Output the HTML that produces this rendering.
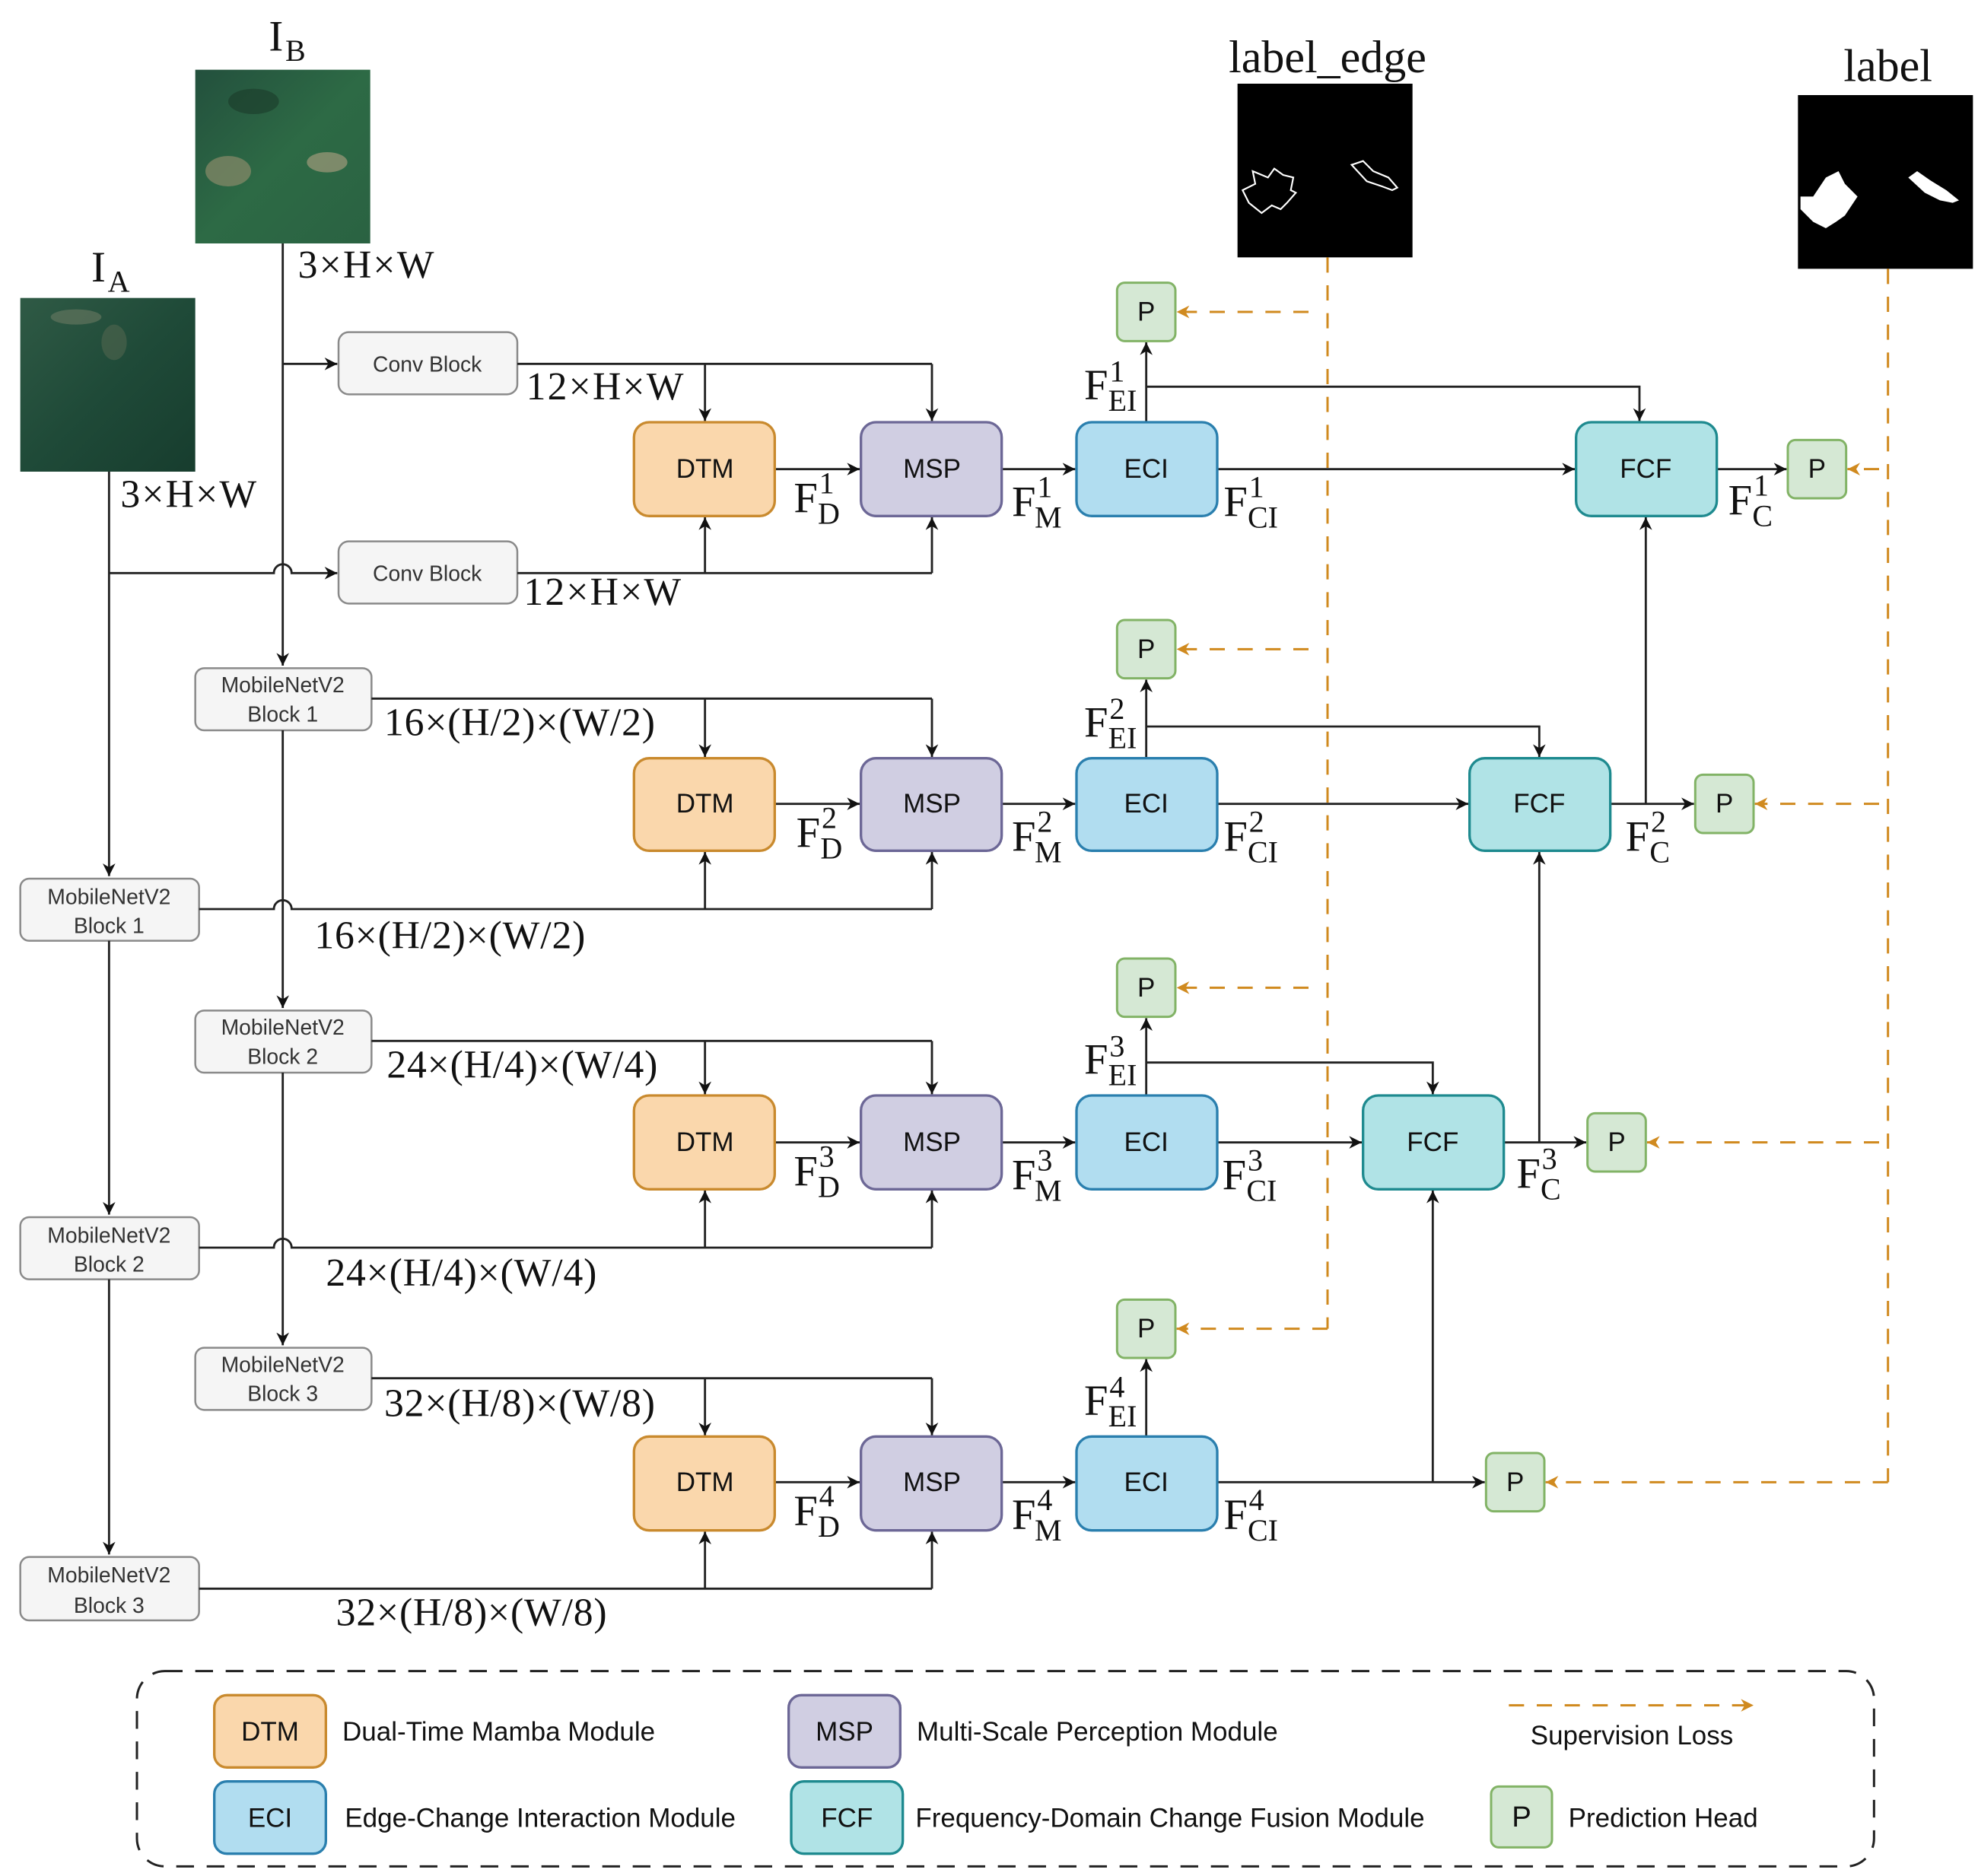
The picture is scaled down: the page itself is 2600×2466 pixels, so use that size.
<!DOCTYPE html>
<html><head><meta charset="utf-8"><style>
html,body{margin:0;padding:0;background:#fff}
svg{display:block}
.b{font-family:"Liberation Sans",sans-serif;font-size:21px;fill:#111;text-anchor:middle;dominant-baseline:central}
.g{font-family:"Liberation Sans",sans-serif;font-size:17px;fill:#333;text-anchor:middle}
.m{font-family:"Liberation Serif",serif;font-size:34px;fill:#111}
.d{font-family:"Liberation Serif",serif;font-size:31px;fill:#111;letter-spacing:0.5px}
.d2{font-family:"Liberation Serif",serif;font-size:31px;fill:#111;letter-spacing:1.3px}
.s{font-family:"Liberation Serif",serif;font-size:24px;fill:#111}
.lg{font-family:"Liberation Sans",sans-serif;font-size:21px;fill:#111;dominant-baseline:central}
.ln{stroke:#222;stroke-width:1.7;fill:none}
.or{stroke:#d08a1f;stroke-width:1.8;fill:none;stroke-dasharray:12 10}
</style></head><body>
<svg width="2600" height="2466" viewBox="0 0 1560 1479.6" xmlns="http://www.w3.org/2000/svg">
<defs>
<marker id="a" viewBox="0 0 10 10" refX="10" refY="5" markerWidth="10" markerHeight="10" markerUnits="userSpaceOnUse" orient="auto"><path d="M0,0 L10,5 L0,10 L3,5 z" fill="#111"/></marker>
<marker id="o" viewBox="0 0 10 10" refX="10" refY="5" markerWidth="10" markerHeight="10" markerUnits="userSpaceOnUse" orient="auto"><path d="M0,0 L10,5 L0,10 L3,5 z" fill="#d08a1f"/></marker>
<linearGradient id="gA" x1="0" y1="0" x2="1" y2="1"><stop offset="0" stop-color="#2f5a45"/><stop offset="0.5" stop-color="#1f4a38"/><stop offset="1" stop-color="#173d2e"/></linearGradient>
<linearGradient id="gB" x1="0" y1="0" x2="1" y2="1"><stop offset="0" stop-color="#23503d"/><stop offset="0.5" stop-color="#2d6a45"/><stop offset="1" stop-color="#2a6242"/></linearGradient>
</defs>

<rect x="154" y="55" width="138" height="137" fill="url(#gB)"/>
<ellipse cx="180" cy="135" rx="18" ry="12" fill="#8a8a6a" opacity="0.7"/>
<ellipse cx="258" cy="128" rx="16" ry="8" fill="#a09a7a" opacity="0.7"/>
<ellipse cx="200" cy="80" rx="20" ry="10" fill="#1a3a2a" opacity="0.6"/>
<rect x="16" y="235" width="138" height="137" fill="url(#gA)"/>
<ellipse cx="60" cy="250" rx="20" ry="6" fill="#6a7a62" opacity="0.6"/>
<ellipse cx="90" cy="270" rx="10" ry="14" fill="#5a6a52" opacity="0.5"/>
<text x="212" y="40" class="m">I</text><text x="225" y="48" class="s">B</text>
<text x="72" y="222" class="m">I</text><text x="85" y="230" class="s">A</text>

<rect x="976" y="66" width="138" height="137" fill="#000"/>
<path d="M980,150 L990,145 L988,135 L1000,140 L1005,133 L1012,138 L1020,140 L1018,150 L1022,152 L1015,160 L1010,165 L1003,162 L995,168 L985,160 Z" stroke="#fff" stroke-width="1.3" fill="none"/>
<path d="M1066,130 L1075,127 L1083,135 L1095,140 L1102,148 L1098,150 L1090,147 L1078,143 Z" stroke="#fff" stroke-width="1.3" fill="none"/>
<rect x="1418" y="75" width="138" height="137" fill="#000"/>
<path d="M1420,155 L1430,155 L1440,140 L1450,135 L1455,145 L1465,155 L1455,170 L1448,175 L1440,180 L1430,175 L1420,165 Z" fill="#fff"/>
<path d="M1505,140 L1512,135 L1522,142 L1535,150 L1545,158 L1540,160 L1530,158 L1518,152 Z" fill="#fff"/>
<text x="1047" y="57" class="m" text-anchor="middle" style="font-size:36px">label_edge</text>
<text x="1489" y="64" class="m" text-anchor="middle" style="font-size:36px">label</text>

<line x1="223" y1="192" x2="223" y2="525" class="ln" marker-end="url(#a)"/>
<line x1="86" y1="372" x2="86" y2="691" class="ln" marker-end="url(#a)"/>
<line x1="223" y1="287" x2="266" y2="287" class="ln" marker-end="url(#a)"/>
<path d="M86,452 H216 A7,7 0 0 1 230,452 H266" class="ln" marker-end="url(#a)"/>
<text x="235" y="219" class="d2">3×H×W</text>
<text x="95" y="400" class="d2">3×H×W</text>

<g fill="#f5f5f5" stroke="#8a8a8a" stroke-width="1.5">
<rect x="267" y="262" width="141" height="49" rx="8"/>
<rect x="267" y="427" width="141" height="49" rx="8"/>
<rect x="154" y="527" width="139" height="49" rx="7"/>
<rect x="154" y="797" width="139" height="49" rx="7"/>
<rect x="154" y="1063" width="139" height="49" rx="7"/>
<rect x="16" y="693" width="141" height="49" rx="7"/>
<rect x="16" y="960" width="141" height="49" rx="7"/>
<rect x="16" y="1228" width="141" height="50" rx="7"/>
</g>
<text x="337" y="293" class="g">Conv Block</text>
<text x="337" y="458" class="g">Conv Block</text>
<text x="223" y="546" class="g">MobileNetV2</text><text x="223" y="569" class="g">Block 1</text>
<text x="223" y="816" class="g">MobileNetV2</text><text x="223" y="839" class="g">Block 2</text>
<text x="223" y="1082" class="g">MobileNetV2</text><text x="223" y="1105" class="g">Block 3</text>
<text x="86" y="713" class="g">MobileNetV2</text><text x="86" y="736" class="g">Block 1</text>
<text x="86" y="980" class="g">MobileNetV2</text><text x="86" y="1003" class="g">Block 2</text>
<text x="86" y="1248" class="g">MobileNetV2</text><text x="86" y="1272" class="g">Block 3</text>

<line x1="223" y1="576" x2="223" y2="795" class="ln" marker-end="url(#a)"/>
<line x1="223" y1="846" x2="223" y2="1061" class="ln" marker-end="url(#a)"/>
<line x1="86" y1="742" x2="86" y2="958" class="ln" marker-end="url(#a)"/>
<line x1="86" y1="1009" x2="86" y2="1226" class="ln" marker-end="url(#a)"/>

<path d="M408,287 H735" class="ln"/>
<line x1="556" y1="287" x2="556" y2="332" class="ln" marker-end="url(#a)"/>
<line x1="735" y1="287" x2="735" y2="332" class="ln" marker-end="url(#a)"/>
<path d="M408,452 H735" class="ln"/>
<line x1="556" y1="452" x2="556" y2="408" class="ln" marker-end="url(#a)"/>
<line x1="735" y1="452" x2="735" y2="408" class="ln" marker-end="url(#a)"/>
<text x="415" y="315" class="d2">12×H×W</text>
<text x="413" y="477" class="d2">12×H×W</text>

<path d="M293,551 H735" class="ln"/>
<line x1="556" y1="551" x2="556" y2="597" class="ln" marker-end="url(#a)"/>
<line x1="735" y1="551" x2="735" y2="597" class="ln" marker-end="url(#a)"/>
<path d="M157,717 H216 A7,7 0 0 1 230,717 H735" class="ln"/>
<line x1="556" y1="717" x2="556" y2="672" class="ln" marker-end="url(#a)"/>
<line x1="735" y1="717" x2="735" y2="672" class="ln" marker-end="url(#a)"/>
<text x="303" y="580" class="d">16×(H/2)×(W/2)</text>
<text x="248" y="748" class="d">16×(H/2)×(W/2)</text>

<path d="M293,821 H735" class="ln"/>
<line x1="556" y1="821" x2="556" y2="863" class="ln" marker-end="url(#a)"/>
<line x1="735" y1="821" x2="735" y2="863" class="ln" marker-end="url(#a)"/>
<path d="M157,984 H216 A7,7 0 0 1 230,984 H735" class="ln"/>
<line x1="556" y1="984" x2="556" y2="939" class="ln" marker-end="url(#a)"/>
<line x1="735" y1="984" x2="735" y2="939" class="ln" marker-end="url(#a)"/>
<text x="305" y="850" class="d">24×(H/4)×(W/4)</text>
<text x="257" y="1014" class="d">24×(H/4)×(W/4)</text>

<path d="M293,1087 H735" class="ln"/>
<line x1="556" y1="1087" x2="556" y2="1132" class="ln" marker-end="url(#a)"/>
<line x1="735" y1="1087" x2="735" y2="1132" class="ln" marker-end="url(#a)"/>
<path d="M157,1253 H735" class="ln"/>
<line x1="556" y1="1253" x2="556" y2="1208" class="ln" marker-end="url(#a)"/>
<line x1="735" y1="1253" x2="735" y2="1208" class="ln" marker-end="url(#a)"/>
<text x="303" y="1117" class="d">32×(H/8)×(W/8)</text>
<text x="265" y="1282" class="d">32×(H/8)×(W/8)</text>

<line x1="1047" y1="203" x2="1047" y2="1048" class="or"/>
<line x1="1489" y1="212" x2="1489" y2="1169" class="or"/>
<line x1="1032" y1="246" x2="928" y2="246" class="or" marker-end="url(#o)"/>
<line x1="1032" y1="512" x2="928" y2="512" class="or" marker-end="url(#o)"/>
<line x1="1032" y1="779" x2="928" y2="779" class="or" marker-end="url(#o)"/>
<line x1="1047" y1="1048" x2="928" y2="1048" class="or" marker-end="url(#o)"/>
<line x1="1482" y1="370" x2="1457" y2="370" class="or" marker-end="url(#o)"/>
<line x1="1482" y1="634" x2="1384" y2="634" class="or" marker-end="url(#o)"/>
<line x1="1482" y1="901" x2="1299" y2="901" class="or" marker-end="url(#o)"/>
<line x1="1489" y1="1169" x2="1219" y2="1169" class="or" marker-end="url(#o)"/>

<g class="ln">
<line x1="611" y1="370" x2="678" y2="370" marker-end="url(#a)"/>
<line x1="790" y1="370" x2="848" y2="370" marker-end="url(#a)"/>
<line x1="960" y1="370" x2="1242" y2="370" marker-end="url(#a)"/>
<line x1="1354" y1="370" x2="1409" y2="370" marker-end="url(#a)"/>
<line x1="904" y1="333" x2="904" y2="270" marker-end="url(#a)"/>
<path d="M904,305 H1293 V332" marker-end="url(#a)"/>

<line x1="611" y1="634" x2="678" y2="634" marker-end="url(#a)"/>
<line x1="790" y1="634" x2="848" y2="634" marker-end="url(#a)"/>
<line x1="960" y1="634" x2="1158" y2="634" marker-end="url(#a)"/>
<line x1="1270" y1="634" x2="1336" y2="634" marker-end="url(#a)"/>
<line x1="1298" y1="634" x2="1298" y2="408" marker-end="url(#a)"/>
<line x1="904" y1="598" x2="904" y2="536" marker-end="url(#a)"/>
<path d="M904,573 H1214 V597" marker-end="url(#a)"/>

<line x1="611" y1="901" x2="678" y2="901" marker-end="url(#a)"/>
<line x1="790" y1="901" x2="848" y2="901" marker-end="url(#a)"/>
<line x1="960" y1="901" x2="1074" y2="901" marker-end="url(#a)"/>
<line x1="1186" y1="901" x2="1251" y2="901" marker-end="url(#a)"/>
<line x1="1214" y1="901" x2="1214" y2="672" marker-end="url(#a)"/>
<line x1="904" y1="864" x2="904" y2="803" marker-end="url(#a)"/>
<path d="M904,838 H1130 V863" marker-end="url(#a)"/>

<line x1="611" y1="1169" x2="678" y2="1169" marker-end="url(#a)"/>
<line x1="790" y1="1169" x2="848" y2="1169" marker-end="url(#a)"/>
<line x1="960" y1="1169" x2="1171" y2="1169" marker-end="url(#a)"/>
<line x1="1130" y1="1169" x2="1130" y2="939" marker-end="url(#a)"/>
<line x1="904" y1="1133" x2="904" y2="1072" marker-end="url(#a)"/>
</g>

<g stroke-width="2">
<g fill="#fad7ac" stroke="#c98a2e">
<rect x="500" y="333" width="111" height="74" rx="12"/><rect x="500" y="598" width="111" height="73" rx="12"/>
<rect x="500" y="864" width="111" height="74" rx="12"/><rect x="500" y="1133" width="111" height="74" rx="12"/>
<rect x="169" y="1337" width="88" height="57" rx="10"/>
</g>
<g fill="#d0cee2" stroke="#6c6796">
<rect x="679" y="333" width="111" height="74" rx="12"/><rect x="679" y="598" width="111" height="73" rx="12"/>
<rect x="679" y="864" width="111" height="74" rx="12"/><rect x="679" y="1133" width="111" height="74" rx="12"/>
<rect x="622" y="1337" width="88" height="57" rx="10"/>
</g>
<g fill="#b1ddf0" stroke="#2a7fae">
<rect x="849" y="333" width="111" height="74" rx="12"/><rect x="849" y="598" width="111" height="73" rx="12"/>
<rect x="849" y="864" width="111" height="74" rx="12"/><rect x="849" y="1133" width="111" height="74" rx="12"/>
<rect x="169" y="1405" width="88" height="57" rx="10"/>
</g>
<g fill="#b0e3e6" stroke="#1e8a8f">
<rect x="1243" y="333" width="111" height="74" rx="12"/><rect x="1159" y="598" width="111" height="73" rx="12"/>
<rect x="1075" y="864" width="111" height="74" rx="12"/>
<rect x="624" y="1405" width="88" height="57" rx="10"/>
</g>
<g fill="#d5e8d4" stroke="#82b366" stroke-width="1.8">
<rect x="881" y="223" width="46" height="46" rx="6"/><rect x="881" y="489" width="46" height="46" rx="6"/>
<rect x="881" y="756" width="46" height="46" rx="6"/><rect x="881" y="1025" width="46" height="46" rx="6"/>
<rect x="1410" y="347" width="46" height="46" rx="6"/><rect x="1337" y="611" width="46" height="46" rx="6"/>
<rect x="1252" y="878" width="46" height="46" rx="6"/><rect x="1172" y="1146" width="46" height="46" rx="6"/>
<rect x="1176" y="1409" width="48" height="48" rx="6"/>
</g>
</g>

<g class="b">
<text x="556" y="370">DTM</text><text x="556" y="634">DTM</text><text x="556" y="901">DTM</text><text x="556" y="1169">DTM</text>
<text x="735" y="370">MSP</text><text x="735" y="634">MSP</text><text x="735" y="901">MSP</text><text x="735" y="1169">MSP</text>
<text x="904" y="370">ECI</text><text x="904" y="634">ECI</text><text x="904" y="901">ECI</text><text x="904" y="1169">ECI</text>
<text x="1298" y="370">FCF</text><text x="1214" y="634">FCF</text><text x="1130" y="901">FCF</text>
<text x="904" y="246">P</text><text x="904" y="512">P</text><text x="904" y="779">P</text><text x="904" y="1048">P</text>
<text x="1433" y="370">P</text><text x="1360" y="634">P</text><text x="1275" y="901">P</text><text x="1195" y="1169">P</text>
<text x="213" y="1366">DTM</text><text x="666" y="1366">MSP</text><text x="213" y="1434">ECI</text><text x="668" y="1434">FCF</text>
<text x="1200" y="1433" style="font-size:23px">P</text>
</g>

<g>
<text x="626" y="404" class="m">F</text><text x="646" y="389" class="s">1</text><text x="645" y="413" class="s">D</text>
<text x="628" y="668" class="m">F</text><text x="648" y="653" class="s">2</text><text x="647" y="677" class="s">D</text>
<text x="626" y="935" class="m">F</text><text x="646" y="920" class="s">3</text><text x="645" y="944" class="s">D</text>
<text x="626" y="1203" class="m">F</text><text x="646" y="1188" class="s">4</text><text x="645" y="1212" class="s">D</text>

<text x="798" y="407" class="m">F</text><text x="818" y="392" class="s">1</text><text x="816" y="416" class="s">M</text>
<text x="798" y="671" class="m">F</text><text x="818" y="656" class="s">2</text><text x="816" y="680" class="s">M</text>
<text x="798" y="938" class="m">F</text><text x="818" y="923" class="s">3</text><text x="816" y="947" class="s">M</text>
<text x="798" y="1206" class="m">F</text><text x="818" y="1191" class="s">4</text><text x="816" y="1215" class="s">M</text>

<text x="965" y="407" class="m">F</text><text x="985" y="392" class="s">1</text><text x="984" y="416" class="s">CI</text>
<text x="965" y="671" class="m">F</text><text x="985" y="656" class="s">2</text><text x="984" y="680" class="s">CI</text>
<text x="964" y="938" class="m">F</text><text x="984" y="923" class="s">3</text><text x="983" y="947" class="s">CI</text>
<text x="965" y="1206" class="m">F</text><text x="985" y="1191" class="s">4</text><text x="984" y="1215" class="s">CI</text>

<text x="855" y="315" class="m">F</text><text x="875" y="301" class="s">1</text><text x="874" y="324" class="s">EI</text>
<text x="855" y="581" class="m">F</text><text x="875" y="567" class="s">2</text><text x="874" y="590" class="s">EI</text>
<text x="855" y="847" class="m">F</text><text x="875" y="833" class="s">3</text><text x="874" y="856" class="s">EI</text>
<text x="855" y="1116" class="m">F</text><text x="875" y="1102" class="s">4</text><text x="874" y="1125" class="s">EI</text>

<text x="1363" y="406" class="m">F</text><text x="1383" y="391" class="s">1</text><text x="1382" y="415" class="s">C</text>
<text x="1282" y="671" class="m">F</text><text x="1302" y="656" class="s">2</text><text x="1301" y="680" class="s">C</text>
<text x="1196" y="937" class="m">F</text><text x="1216" y="922" class="s">3</text><text x="1215" y="946" class="s">C</text>
</g>

<rect x="108" y="1318" width="1370" height="154" rx="22" fill="none" stroke="#222" stroke-width="1.8" stroke-dasharray="14 10"/>
<line x1="1190" y1="1345" x2="1383" y2="1345" class="or" marker-end="url(#o)"/>
<text x="270" y="1366" class="lg">Dual-Time Mamba Module</text>
<text x="723" y="1366" class="lg">Multi-Scale Perception Module</text>
<text x="1287" y="1369" class="lg" text-anchor="middle">Supervision Loss</text>
<text x="272" y="1434" class="lg">Edge-Change Interaction Module</text>
<text x="722" y="1434" class="lg">Frequency-Domain Change Fusion Module</text>
<text x="1237" y="1434" class="lg">Prediction Head</text>
</svg>
</body></html>
